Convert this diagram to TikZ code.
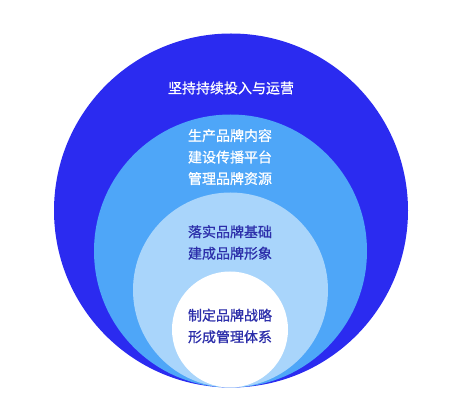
\documentclass[tikz,border=0pt]{standalone}
\usepackage{fontspec}
\newfontfamily\cjk{Noto Sans CJK SC}[FakeBold=0.8]

\begin{document}
\begin{tikzpicture}[x=1pt, y=1pt]
    % 定义颜色
    \definecolor{ringdeep}{RGB}{43, 43, 240}
    \definecolor{ringmid}{RGB}{78, 166, 248}
    \definecolor{ringlight}{RGB}{169, 213, 251}
    \definecolor{textdark}{RGB}{44, 46, 170}
    \tikzset{label/.style={font=\cjk\fontsize{14}{21.5}\selectfont, align=center}}

    % 画布范围
    \useasboundingbox (0, 0) rectangle (461, 418);

    % 同心圆 (底部相切)
    \fill[ringdeep] (231, 207.5) circle (177);
    \fill[ringmid] (230.5, 167) circle (136.5);
    \fill[ringlight] (230.5, 128) circle (97.5);
    \fill[white] (230, 88.5) circle (58);

    % 文字
    \node[label, white] (outer) at (231, 330) {坚持持续投入与运营};
    \node[label, white] (mid) at (230, 261) {生产品牌内容\\建设传播平台\\管理品牌资源};
    \node[label, textdark] (light) at (230, 175.5) {落实品牌基础\\建成品牌形象};
    \node[label, textdark] (core) at (230, 92) {制定品牌战略\\形成管理体系};
\end{tikzpicture}
\end{document}
